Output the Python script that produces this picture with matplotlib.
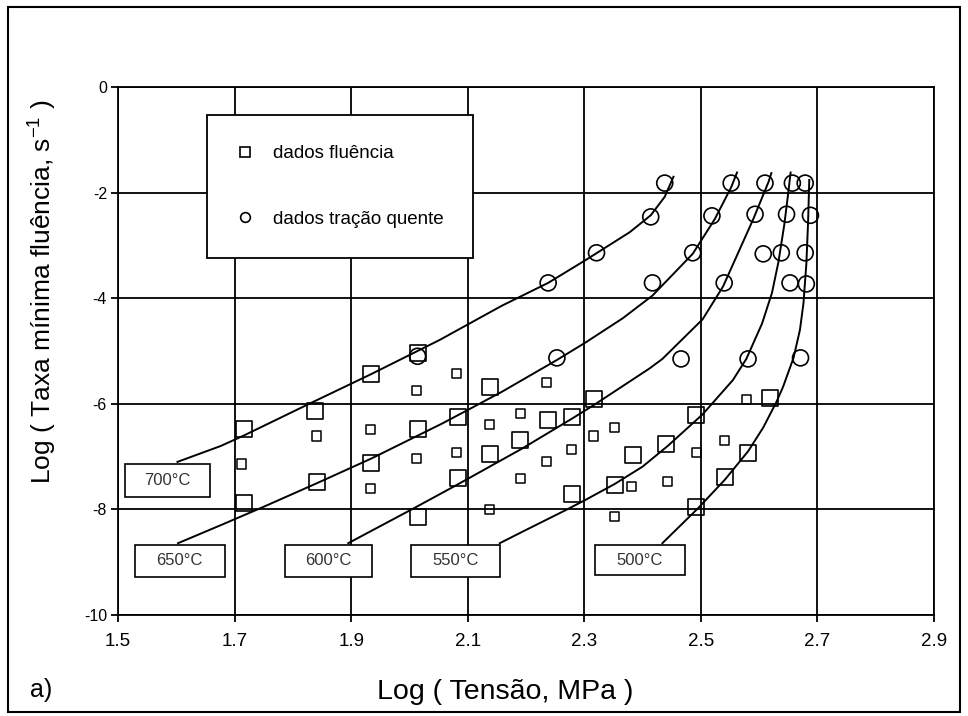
import matplotlib
matplotlib.use("Agg")
import matplotlib.pyplot as plt
from matplotlib.lines import Line2D
from matplotlib.patches import Rectangle

plt.rcParams['font.family'] = ['Liberation Sans', 'DejaVu Sans']

# ---------------- data ----------------
# creep data, large squares
creep_big_x = [1.716, 1.716, 1.838, 1.841, 1.934, 1.934, 2.014, 2.014, 2.014, 2.084, 2.084,
               2.138, 2.138, 2.190, 2.238, 2.279, 2.279, 2.317, 2.352, 2.383, 2.441,
               2.491, 2.491, 2.541, 2.581, 2.619]
creep_big_y = [-6.48, -7.88, -6.14, -7.48, -5.44, -7.12, -6.48, -8.14, -5.04, -6.25, -7.41,
               -5.68, -6.95, -6.69, -6.31, -6.25, -7.71, -5.91, -7.54, -6.97, -6.76,
               -6.21, -7.95, -7.39, -6.93, -5.89]
# creep data, small squares
creep_small_x = [1.712, 1.840, 1.933, 1.933, 2.012, 2.012, 2.081, 2.081, 2.138, 2.138,
                 2.236, 2.191, 2.278, 2.236, 2.191, 2.352, 2.316, 2.381, 2.443, 2.352,
                 2.493, 2.541, 2.579]
creep_small_y = [-7.14, -6.61, -6.48, -7.61, -5.74, -7.03, -5.42, -6.93, -8.01, -6.40,
                 -5.59, -6.19, -6.86, -7.10, -7.41, -6.44, -6.61, -7.56, -7.48, -8.14,
                 -6.93, -6.69, -5.91]
# hot tensile data (circles)
hot_x = [2.438, 2.414, 2.321, 2.238, 2.014,
         2.552, 2.519, 2.486, 2.417, 2.253,
         2.610, 2.593, 2.607, 2.540, 2.466,
         2.657, 2.647, 2.638, 2.653, 2.581,
         2.679, 2.688, 2.679, 2.681, 2.671]
hot_y = [-1.82, -2.46, -3.14, -3.71, -5.10,
         -1.82, -2.44, -3.14, -3.71, -5.13,
         -1.82, -2.41, -3.16, -3.71, -5.15,
         -1.82, -2.41, -3.14, -3.71, -5.15,
         -1.82, -2.43, -3.14, -3.73, -5.13]

# fitted curves per temperature
temps = ['700°C', '650°C', '600°C', '550°C', '500°C']
curve_x = [
    [1.602, 1.676, 1.716, 1.828, 1.934, 2.052, 2.103, 2.159, 2.238, 2.302, 2.378, 2.414, 2.438, 2.453],
    [1.603, 1.676, 1.750, 1.842, 1.934, 2.055, 2.103, 2.159, 2.253, 2.302, 2.366, 2.417, 2.486, 2.524, 2.552, 2.562],
    [1.895, 1.929, 2.009, 2.084, 2.193, 2.279, 2.317, 2.412, 2.434, 2.503, 2.538, 2.590, 2.616, 2.621],
    [2.155, 2.198, 2.267, 2.302, 2.352, 2.400, 2.443, 2.503, 2.555, 2.578, 2.605, 2.622, 2.633, 2.643, 2.650, 2.654],
    [2.434, 2.495, 2.541, 2.581, 2.607, 2.629, 2.641, 2.659, 2.670, 2.676, 2.681, 2.684, 2.686],
]
curve_y = [
    [-7.10, -6.80, -6.60, -6.00, -5.44, -4.79, -4.48, -4.14, -3.71, -3.28, -2.75, -2.43, -2.08, -1.70],
    [-8.64, -8.30, -7.95, -7.50, -7.04, -6.38, -6.10, -5.77, -5.17, -4.84, -4.38, -3.95, -3.16, -2.50, -1.90, -1.62],
    [-8.64, -8.44, -7.97, -7.52, -6.85, -6.28, -6.02, -5.33, -5.15, -4.40, -3.78, -2.50, -1.80, -1.63],
    [-8.64, -8.40, -8.02, -7.82, -7.52, -7.19, -6.80, -6.20, -5.55, -5.15, -4.48, -3.90, -3.32, -2.62, -2.00, -1.62],
    [-8.64, -7.98, -7.44, -6.90, -6.45, -5.98, -5.68, -5.13, -4.60, -4.10, -3.35, -2.55, -1.76],
]
# temperature label boxes: (x0, x1, y0, y1) in data units
label_boxes = [
    (1.512, 1.658, -7.77, -7.14),
    (1.529, 1.683, -9.28, -8.67),
    (1.786, 1.936, -9.28, -8.67),
    (2.003, 2.155, -9.28, -8.67),
    (2.319, 2.472, -9.25, -8.67),
]

x_ticks = [1.5, 1.7, 1.9, 2.1, 2.3, 2.5, 2.7, 2.9]
y_ticks = [0, -2, -4, -6, -8, -10]

# ---------------- figure ----------------
fig = plt.figure(figsize=(9.68, 7.16), dpi=100)
ax = fig.add_axes([118 / 968, (716 - 615) / 716, (934 - 118) / 968, (615 - 87) / 716])

ax.set_xlim(1.5, 2.9)
ax.set_ylim(-10, 0)
ax.set_xticks(x_ticks)
ax.set_xticklabels([f"{v:.1f}" for v in x_ticks])
ax.set_yticks(y_ticks)
ax.set_yticklabels([str(v) for v in y_ticks])
ax.grid(True, color='black', lw=1.3)
ax.set_axisbelow(True)
for s in ax.spines.values():
    s.set_linewidth(1.3)
    s.set_color('black')
ax.tick_params(axis='both', direction='out', length=5, width=1.3, colors='black')
ax.tick_params(axis='x', labelsize=13.5, pad=8)
ax.tick_params(axis='y', labelsize=11.5, pad=3)

for cx, cy in zip(curve_x, curve_y):
    ax.plot(cx, cy, color='black', lw=1.4, zorder=3, solid_joinstyle='round')

ax.scatter(creep_big_x, creep_big_y, marker='s', s=11.5 ** 2, facecolors='none',
           edgecolors='black', linewidths=1.2, zorder=4)
ax.scatter(creep_small_x, creep_small_y, marker='s', s=6.5 ** 2, facecolors='none',
           edgecolors='black', linewidths=1.1, zorder=4)
ax.scatter(hot_x, hot_y, marker='o', s=11.5 ** 2, facecolors='none',
           edgecolors='black', linewidths=1.2, zorder=4)

for (x0, x1, y0, y1), t in zip(label_boxes, temps):
    ax.add_patch(Rectangle((x0, y0), x1 - x0, y1 - y0, facecolor='white',
                           edgecolor='black', lw=1.2, zorder=5))
    ax.text((x0 + x1) / 2, (y0 + y1) / 2, t, ha='center', va='center',
            fontsize=12, color='#333333', zorder=6)

handles = [
    Line2D([], [], ls='none', marker='s', ms=7, mfc='none', mec='black', mew=1.2),
    Line2D([], [], ls='none', marker='o', ms=7, mfc='none', mec='black', mew=1.2),
]
leg = ax.legend(handles, ['dados fluência', 'dados tração quente'], loc='upper left',
                bbox_to_anchor=(0.109, 0.947), borderaxespad=0, fontsize=13.5,
                frameon=True, fancybox=False, framealpha=1, edgecolor='black',
                borderpad=1.6, labelspacing=2.6, handlelength=0.9, handletextpad=1.0)
leg.get_frame().set_linewidth(1.3)
leg.set_zorder(7)

ax.set_xlabel('Log ( Tensão, MPa )', fontsize=20.5)
ax.xaxis.set_label_coords((505 - 118) / 816, (615 - 692) / 528)
ax.xaxis.label.set_va('center')
ax.set_ylabel('Log ( Taxa mínima fluência, s$^{\\mathregular{-1}}$ )', fontsize=19)
ax.yaxis.set_label_coords((42 - 118) / 816, (615 - 292) / 528)
ax.yaxis.label.set_va('center')

fig.text(30 / 968, 1 - 690 / 716, 'a)', fontsize=18, ha='left', va='center')
fig.add_artist(Rectangle((8 / 968, 1 - 712 / 716), 952 / 968, 705 / 716,
                         transform=fig.transFigure, fill=False, edgecolor='black', lw=1.5))

fig.savefig('out.png', dpi=100)
